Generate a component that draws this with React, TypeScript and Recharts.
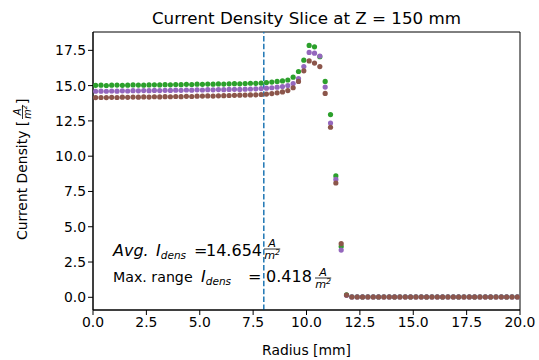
import { ScatterChart, Scatter, XAxis, YAxis, ReferenceLine, ReferenceArea } from "recharts";

// radial sample positions of the slice [mm]
const radius = [
  0.125, 0.375, 0.625, 0.875, 1.125, 1.375, 1.625, 1.875, 2.125, 2.375,
  2.625, 2.875, 3.125, 3.375, 3.625, 3.875, 4.125, 4.375, 4.625, 4.875,
  5.125, 5.375, 5.625, 5.875, 6.125, 6.375, 6.625, 6.875, 7.125, 7.375,
  7.625, 7.875, 8.125, 8.375, 8.625, 8.875, 9.125, 9.375, 9.625, 9.875,
  10.125, 10.375, 10.625, 10.875, 11.125, 11.375, 11.625, 11.875, 12.125, 12.375,
  12.625, 12.875, 13.125, 13.375, 13.625, 13.875, 14.125, 14.375, 14.625, 14.875,
  15.125, 15.375, 15.625, 15.875, 16.125, 16.375, 16.625, 16.875, 17.125, 17.375,
  17.625, 17.875, 18.125, 18.375, 18.625, 18.875, 19.125, 19.375, 19.625, 19.875,
];

const densGreen = [
  15.02, 15.03, 15.01, 15.03, 15.04, 15.02, 15.03, 15.05, 15.04, 15.03,
  15.05, 15.06, 15.05, 15.07, 15.06, 15.08, 15.07, 15.09, 15.08, 15.1,
  15.09, 15.11, 15.1, 15.12, 15.11, 15.13, 15.14, 15.13, 15.15, 15.17,
  15.16, 15.18, 15.22, 15.25, 15.3, 15.33, 15.4, 15.6, 16.0, 16.8,
  17.85, 17.75, 17.05, 15.3, 12.95, 8.6, 3.6, 0.18, 0.04, 0.04,
  0.03, 0.04, 0.04, 0.03, 0.04, 0.04, 0.03, 0.04, 0.04, 0.03,
  0.04, 0.04, 0.03, 0.04, 0.04, 0.03, 0.04, 0.04, 0.03, 0.04,
  0.04, 0.03, 0.04, 0.04, 0.03, 0.04, 0.04, 0.03, 0.04, 0.04,
];

const densPurple = [
  14.6, 14.61, 14.6, 14.62, 14.61, 14.63, 14.62, 14.64, 14.63, 14.65,
  14.64, 14.66, 14.65, 14.67, 14.66, 14.68, 14.67, 14.69, 14.68, 14.7,
  14.69, 14.71, 14.7, 14.72, 14.71, 14.73, 14.74, 14.73, 14.75, 14.76,
  14.77, 14.79, 14.82, 14.85, 14.89, 14.93, 15.0, 15.15, 15.5, 16.35,
  17.35, 17.3, 17.1, 14.9, 12.35, 8.35, 3.35, 0.14, 0.03, 0.03,
  0.03, 0.03, 0.03, 0.03, 0.03, 0.03, 0.03, 0.03, 0.03, 0.03,
  0.03, 0.03, 0.03, 0.03, 0.03, 0.03, 0.03, 0.03, 0.03, 0.03,
  0.03, 0.03, 0.03, 0.03, 0.03, 0.03, 0.03, 0.03, 0.03, 0.03,
];

const densBrown = [
  14.15, 14.16, 14.15, 14.17, 14.16, 14.18, 14.17, 14.19, 14.18, 14.2,
  14.19, 14.21, 14.2, 14.22, 14.21, 14.23, 14.22, 14.24, 14.23, 14.25,
  14.26, 14.27, 14.26, 14.28, 14.29, 14.3, 14.31, 14.32, 14.33, 14.34,
  14.35, 14.37, 14.4, 14.44, 14.49, 14.55, 14.65, 14.85, 15.3, 16.05,
  16.75, 16.6, 16.35, 14.45, 12.05, 8.1, 3.8, 0.16, 0.02, 0.02,
  0.02, 0.02, 0.02, 0.02, 0.02, 0.02, 0.02, 0.02, 0.02, 0.02,
  0.02, 0.02, 0.02, 0.02, 0.02, 0.02, 0.02, 0.02, 0.02, 0.02,
  0.02, 0.02, 0.02, 0.02, 0.02, 0.02, 0.02, 0.02, 0.02, 0.02,
];

const xTicks = [0, 2.5, 5, 7.5, 10, 12.5, 15, 17.5, 20];
const yTicks = [0, 2.5, 5, 7.5, 10, 12.5, 15, 17.5];
const cutRadius = 8;
const avgDens = "14.654";
const maxRange = "0.418";

const FONT = "DejaVu Sans, sans-serif";
const Y_MIN = -0.9;
const Y_MAX = 18.8;

const series = [
  { name: "green", color: "#2ca02c", values: densGreen },
  { name: "purple", color: "#9467bd", values: densPurple },
  { name: "brown", color: "#8c564b", values: densBrown },
];

const dot = (color: string) => (props: any) =>
  <circle cx={props.cx} cy={props.cy} r={2.6} fill={color} />;

// small stacked A / m^2 like matplotlib's \frac
const Frac = ({ x, y, size }: { x: number; y: number; size: number }) => {
  const s = size * 0.7;
  const w = s * 1.45;
  return (
    <g fontFamily={FONT} fill="#000">
      <text x={x + w / 2} y={y - 2} fontSize={s} fontStyle="italic" textAnchor="middle">A</text>
      <line x1={x} x2={x + w} y1={y} y2={y} stroke="#000" strokeWidth={0.8} />
      <text x={x + w / 2} y={y + s * 0.85} fontSize={s} fontStyle="italic" textAnchor="middle">
        m<tspan fontSize={s * 0.7} dy={-s * 0.35}>2</tspan>
      </text>
    </g>
  );
};

export default function App() {
  const fs = 13.9;
  const ms = 16;
  return (
    <div style={{ position: "absolute", left: 0, top: 0, width: 539, height: 360, background: "#fff" }}>
      <ScatterChart width={539} height={360} margin={{ top: 32, right: 19, bottom: 0, left: 0 }}>
        <XAxis
          type="number"
          dataKey="r"
          domain={[0, 20]}
          ticks={xTicks}
          allowDataOverflow
          height={50}
          stroke="#000"
          tickSize={5}
          tick={{ fill: "#000", fontSize: fs, fontFamily: FONT }}
          tickFormatter={(v) => v.toFixed(1)}
        />
        <YAxis
          type="number"
          dataKey="j"
          domain={[Y_MIN, Y_MAX]}
          ticks={yTicks}
          allowDataOverflow
          width={93}
          stroke="#000"
          tickSize={5}
          tick={{ fill: "#000", fontSize: fs, fontFamily: FONT }}
          tickFormatter={(v) => v.toFixed(1)}
        />
        <ReferenceArea x1={0} x2={20} y1={Y_MIN} y2={Y_MAX} fill="none" stroke="#000" strokeWidth={1} ifOverflow="visible" />
        {series.map((s) => (
          <Scatter
            key={s.name}
            data={radius.map((r, i) => ({ r, j: s.values[i] }))}
            fill={s.color}
            shape={dot(s.color)}
            isAnimationActive={false}
          />
        ))}
        <ReferenceLine x={cutRadius} stroke="#1f77b4" strokeWidth={1.5} strokeDasharray="5.5 2.4" />
      </ScatterChart>
      <svg width={539} height={360} style={{ position: "absolute", left: 0, top: 0, pointerEvents: "none" }}>
        <text x={306.5} y={24} fontSize={16.7} fontFamily={FONT} textAnchor="middle" fill="#000">
          Current Density Slice at Z = 150 mm
        </text>
        <text x={306.5} y={355} fontSize={fs} fontFamily={FONT} textAnchor="middle" fill="#000">
          Radius [mm]
        </text>
        <g transform="translate(27,240) rotate(-90)">
          <text x={0} y={0} fontSize={fs} fontFamily={FONT} fill="#000">
            Current Density [
          </text>
          <Frac x={121} y={-4.5} size={fs} />
          <text x={136} y={0} fontSize={fs} fontFamily={FONT} fill="#000">]</text>
        </g>
        <g fontFamily={FONT} fill="#000">
          <text y={256} fontSize={ms}>
            <tspan x={113} fontStyle="italic">Avg.</tspan>
            <tspan x={156} fontStyle="italic">I</tspan>
            <tspan fontStyle="italic" fontSize={ms * 0.66} dy={3}>dens</tspan>
            <tspan x={194} dy={-3}>=</tspan>
            <tspan x={206}>{avgDens}</tspan>
          </text>
          <text y={282} fontSize={14.2}>
            <tspan x={113}>Max. range</tspan>
            <tspan x={201} fontSize={ms} fontStyle="italic">I</tspan>
            <tspan fontStyle="italic" fontSize={ms * 0.66} dy={3}>dens</tspan>
            <tspan x={248} fontSize={ms} dy={-3}>=</tspan>
            <tspan x={266} fontSize={ms}>{maxRange}</tspan>
          </text>
        </g>
        <Frac x={264} y={249} size={ms} />
        <Frac x={315} y={278} size={ms} />
      </svg>
    </div>
  );
}
